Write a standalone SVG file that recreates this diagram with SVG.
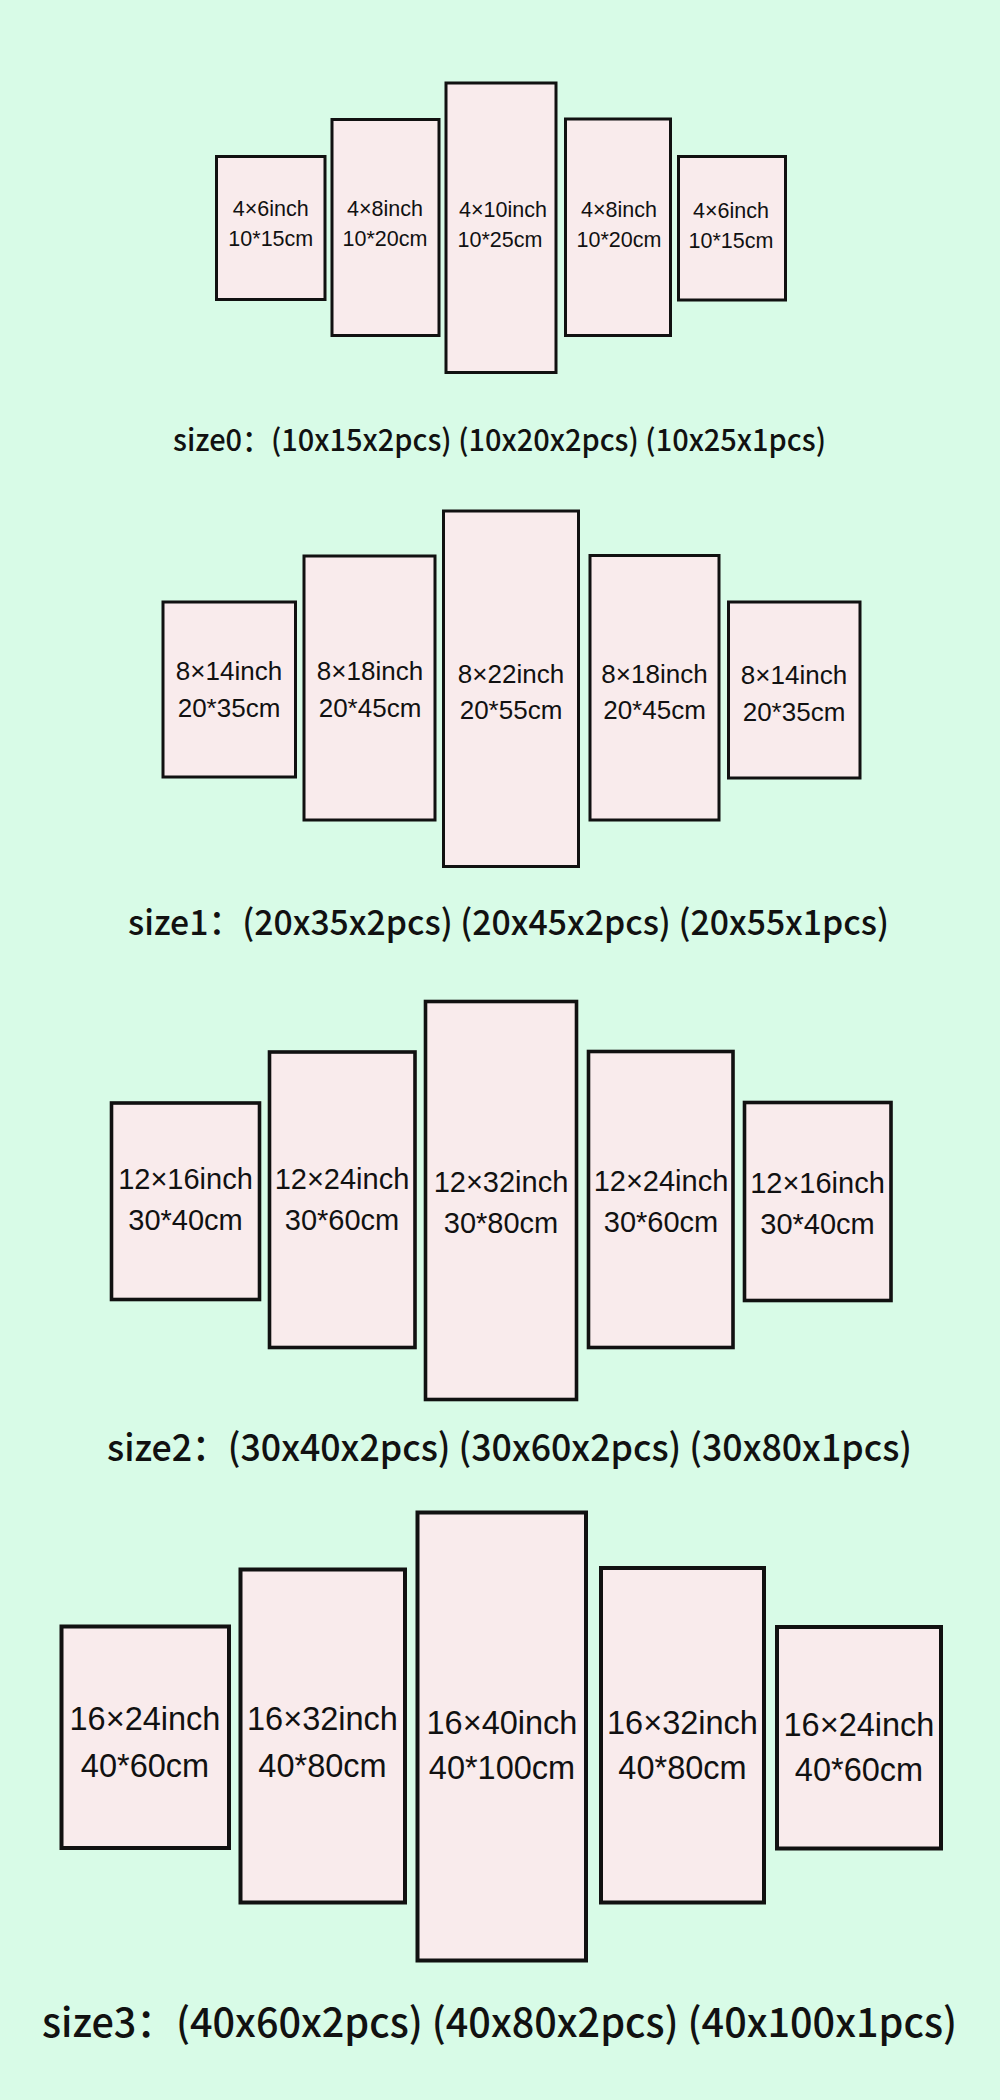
<svg xmlns="http://www.w3.org/2000/svg" width="1000" height="2100" viewBox="0 0 1000 2100">
<style>
.bg{fill:#d8fbe7}
.p{fill:#f9ebec;stroke:#111;stroke-width:3}
.p3{fill:#f9ebec;stroke:#111;stroke-width:3.6}
.p4{fill:#f9ebec;stroke:#111;stroke-width:4}
.t{font-family:"Liberation Sans",Arial,sans-serif;fill:#111;text-anchor:middle}
.t0{font-size:21.5px}
.t1{font-size:26px}
.t2{font-size:29px}
.t3{font-size:32.5px}
.lb{font-family:"Noto Sans CJK SC","Noto Sans",sans-serif;fill:#111;font-weight:500}
</style>
<rect class="bg" x="0" y="0" width="1000" height="2100"/>

<g id="size0">
  <g id="s0-p1"><rect class="p" x="216.5" y="156.5" width="108.5" height="143"/>
    <text class="t t0" x="270.8" y="215.7">4×6inch</text><text class="t t0" x="270.8" y="245.7">10*15cm</text></g>
  <g id="s0-p2"><rect class="p" x="332" y="119.5" width="107" height="216"/>
    <text class="t t0" x="385" y="215.7">4×8inch</text><text class="t t0" x="385" y="245.7">10*20cm</text></g>
  <g id="s0-p3"><rect class="p" x="446" y="83" width="110" height="289.5"/>
    <text class="t t0" x="503" y="217.3">4×10inch</text><text class="t t0" x="500" y="247.3">10*25cm</text></g>
  <g id="s0-p4"><rect class="p" x="565.5" y="119" width="105" height="216.5"/>
    <text class="t t0" x="619" y="217.3">4×8inch</text><text class="t t0" x="619" y="246.7">10*20cm</text></g>
  <g id="s0-p5"><rect class="p" x="678.5" y="156.5" width="107" height="143.5"/>
    <text class="t t0" x="731" y="218.3">4×6inch</text><text class="t t0" x="731" y="248.3">10*15cm</text></g>
  <text id="s0-label" class="lb" x="173" y="451" font-size="30" textLength="653" lengthAdjust="spacingAndGlyphs">size0：(10x15x2pcs) (10x20x2pcs) (10x25x1pcs)</text>
</g>

<g id="size1">
  <g id="s1-p1"><rect class="p" x="163" y="602" width="132.5" height="175"/>
    <text class="t t1" x="229" y="680.4">8×14inch</text><text class="t t1" x="229" y="716.5">20*35cm</text></g>
  <g id="s1-p2"><rect class="p" x="304" y="556" width="131" height="264"/>
    <text class="t t1" x="370" y="680.4">8×18inch</text><text class="t t1" x="370" y="716.5">20*45cm</text></g>
  <g id="s1-p3"><rect class="p" x="443.5" y="511" width="135" height="355.5"/>
    <text class="t t1" x="511" y="682.8">8×22inch</text><text class="t t1" x="511" y="719">20*55cm</text></g>
  <g id="s1-p4"><rect class="p" x="590" y="555.5" width="129" height="264.5"/>
    <text class="t t1" x="654.5" y="682.8">8×18inch</text><text class="t t1" x="654.5" y="719">20*45cm</text></g>
  <g id="s1-p5"><rect class="p" x="728.5" y="602" width="131.5" height="176"/>
    <text class="t t1" x="794" y="683.8">8×14inch</text><text class="t t1" x="794" y="720.6">20*35cm</text></g>
  <text id="s1-label" class="lb" x="128" y="935" font-size="35" textLength="761" lengthAdjust="spacingAndGlyphs">size1：(20x35x2pcs) (20x45x2pcs) (20x55x1pcs)</text>
</g>

<g id="size2">
  <g id="s2-p1"><rect class="p3" x="111.5" y="1103" width="148" height="196.5"/>
    <text class="t t2" x="185.5" y="1189">12×16inch</text><text class="t t2" x="185.5" y="1230">30*40cm</text></g>
  <g id="s2-p2"><rect class="p3" x="269.5" y="1052" width="145.5" height="295.5"/>
    <text class="t t2" x="342" y="1189">12×24inch</text><text class="t t2" x="342" y="1230">30*60cm</text></g>
  <g id="s2-p3"><rect class="p3" x="425.5" y="1001.5" width="151" height="398"/>
    <text class="t t2" x="501" y="1191.7">12×32inch</text><text class="t t2" x="501" y="1232.7">30*80cm</text></g>
  <g id="s2-p4"><rect class="p3" x="588.5" y="1051.5" width="144.5" height="296"/>
    <text class="t t2" x="661" y="1191">12×24inch</text><text class="t t2" x="661" y="1232">30*60cm</text></g>
  <g id="s2-p5"><rect class="p3" x="744.5" y="1102.5" width="146.5" height="198"/>
    <text class="t t2" x="817.5" y="1193">12×16inch</text><text class="t t2" x="817.5" y="1234">30*40cm</text></g>
  <text id="s2-label" class="lb" x="107" y="1461" font-size="37" textLength="805" lengthAdjust="spacingAndGlyphs">size2：(30x40x2pcs) (30x60x2pcs) (30x80x1pcs)</text>
</g>

<g id="size3">
  <g id="s3-p1"><rect class="p4" x="61.5" y="1626.5" width="167.5" height="221.5"/>
    <text class="t t3" x="145" y="1730.3">16×24inch</text><text class="t t3" x="145" y="1776.7">40*60cm</text></g>
  <g id="s3-p2"><rect class="p4" x="240.5" y="1569.5" width="164.5" height="333"/>
    <text class="t t3" x="322.5" y="1730.3">16×32inch</text><text class="t t3" x="322.5" y="1776.7">40*80cm</text></g>
  <g id="s3-p3"><rect class="p4" x="417.5" y="1512.5" width="168.5" height="448"/>
    <text class="t t3" x="502" y="1733.8">16×40inch</text><text class="t t3" x="502" y="1779">40*100cm</text></g>
  <g id="s3-p4"><rect class="p4" x="601" y="1568" width="163" height="334.5"/>
    <text class="t t3" x="682.5" y="1733.8">16×32inch</text><text class="t t3" x="682.5" y="1779">40*80cm</text></g>
  <g id="s3-p5"><rect class="p4" x="777" y="1627" width="164" height="221.5"/>
    <text class="t t3" x="859" y="1735.7">16×24inch</text><text class="t t3" x="859" y="1781">40*60cm</text></g>
  <text id="s3-label" class="lb" x="42" y="2036.5" font-size="40" textLength="915" lengthAdjust="spacingAndGlyphs">size3：(40x60x2pcs) (40x80x2pcs) (40x100x1pcs)</text>
</g>

<g id="connectors"></g>
</svg>
